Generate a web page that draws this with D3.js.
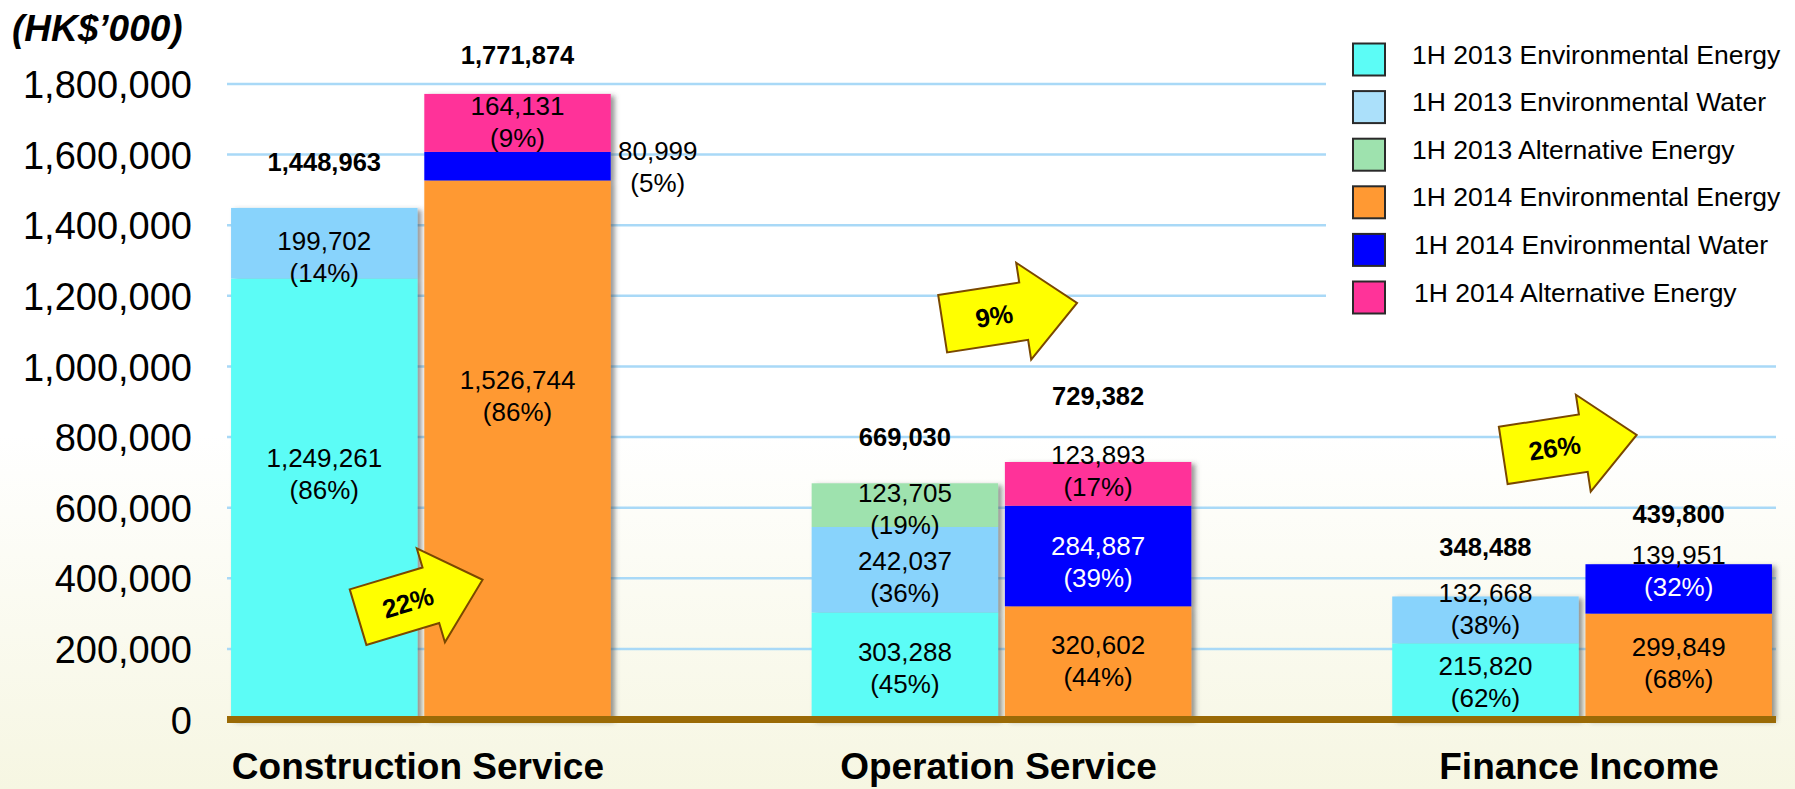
<!DOCTYPE html>
<html><head><meta charset="utf-8">
<script src="https://cdn.jsdelivr.net/npm/d3@7"></script>
<style>
html,body{margin:0;padding:0;background:#fff;}
svg{display:block;font-family:Arial,"Liberation Sans",sans-serif;}
</style></head><body>
<svg id="chart" width="1795" height="789"></svg>
<script>
// ---------------- DATA ----------------
const categories = ["Construction Service", "Operation Service", "Finance Income"];
const periods = ["1H 2013", "1H 2014"];
const seriesNames = ["Environmental Energy", "Environmental Water", "Alternative Energy"];

const envEnergy2013 = [1249261, 303288, 215820];
const envWater2013  = [199702, 242037, 132668];
const altEnergy2013 = [0, 123705, 0];
const envEnergy2014 = [1526744, 320602, 299849];
const envWater2014  = [80999, 284887, 139951];
const altEnergy2014 = [164131, 123893, 0];

const envEnergyPct2013 = [86, 45, 62];
const envWaterPct2013  = [14, 36, 38];
const altEnergyPct2013 = [null, 19, null];
const envEnergyPct2014 = [86, 44, 68];
const envWaterPct2014  = [5, 39, 32];
const altEnergyPct2014 = [9, 17, null];

const totals2013 = [1448963, 669030, 348488];
const totals2014 = [1771874, 729382, 439800];
const growth = ["22%", "9%", "26%"];

const yTicks = [0, 200000, 400000, 600000, 800000, 1000000, 1200000, 1400000, 1600000, 1800000];
const legendLabels = [
  "1H 2013 Environmental Energy", "1H 2013 Environmental Water", "1H 2013 Alternative Energy",
  "1H 2014 Environmental Energy", "1H 2014 Environmental Water", "1H 2014 Alternative Energy"
];

// ---------------- STYLE / LAYOUT ----------------
const colors2013 = ["#5CFCF6", "#88D3FC", "#9EE2AE"];
const colors2014 = ["#FF9933", "#0000FF", "#FF3399"];
const legendColors = ["#5CFCF6", "#ABE0FA", "#9EE2AE", "#FF9933", "#0000FF", "#FF3399"];

// label nudges (px) relative to segment centre: [category][series]
const segNudge2013 = [[-25, 13, 0], [2, 7, 4], [0, -11, 0]];
const segNudge2014 = [[-54, 0, -1], [-2, 6, -13], [-4, -18, 0]];
const totalGap2013 = [46, 46, 50];
const totalGap2014 = [39, 66, 50];
// arrows: offset from group start (px), anchor value on y scale, angle, length
const arrowDx = [127, 131, 111];
const arrowAt = [290000, 1121000, 748000];
const arrowAngle = [-16.7, -8.8, -8.7];
const arrowLen = [130, 136, 135];

const W = 1795, H = 789;
const plotLeft = 227, plotRight = 1776;
const svg = d3.select("#chart");

// background gradient
const defs = svg.append("defs");
const bg = defs.append("linearGradient").attr("id", "bg").attr("x1", 0).attr("y1", 0).attr("x2", 0).attr("y2", 1);
bg.append("stop").attr("offset", "0%").attr("stop-color", "#ffffff");
bg.append("stop").attr("offset", "55%").attr("stop-color", "#ffffff");
bg.append("stop").attr("offset", "100%").attr("stop-color", "#F6F6E2");
svg.append("rect").attr("width", W).attr("height", H).attr("fill", "url(#bg)");

const shadow = defs.append("filter").attr("id", "shadow").attr("x", "-10%").attr("y", "-10%").attr("width", "130%").attr("height", "130%");
shadow.append("feDropShadow").attr("dx", 4).attr("dy", 2).attr("stdDeviation", 2.5)
  .attr("flood-color", "#444").attr("flood-opacity", 0.55);

// scales
const y = d3.scaleLinear().domain([0, 1800000]).range([719.5, 84]);
const x0 = d3.scaleBand().domain(categories).range([plotLeft, plotRight]).paddingInner(0.346).paddingOuter(0.007);
const x1 = d3.scaleBand().domain(periods).range([0, x0.bandwidth()]).paddingInner(0.035);

// gridlines
const legendLeft = 1326, legendBottom = 335;
svg.append("g").selectAll("line").data(yTicks.filter(d => d > 0)).join("line")
  .attr("x1", plotLeft)
  .attr("x2", d => y(d) < legendBottom ? legendLeft : plotRight)
  .attr("y1", d => y(d)).attr("y2", d => y(d))
  .attr("stroke", "#A9D9F7").attr("stroke-width", 2.5);

// y axis (labels only)
const yAxis = d3.axisLeft(y).tickValues(yTicks).tickFormat(d3.format(",")).tickSize(0).tickPadding(0);
const yg = svg.append("g").attr("transform", "translate(192,0)").call(yAxis);
yg.select(".domain").remove();
yg.selectAll("text").attr("font-size", 38).attr("fill", "#000")
  .attr("font-family", 'Arial,"Liberation Sans",sans-serif').attr("dy", "0.36em");

// unit label
svg.append("text").attr("x", 12).attr("y", 41).attr("font-size", 37).attr("font-weight", "bold")
  .attr("font-style", "italic").text("(HK$\u2019000)");

// build stacked data
const data = [];
const vals = {
  "1H 2013": [envEnergy2013, envWater2013, altEnergy2013],
  "1H 2014": [envEnergy2014, envWater2014, altEnergy2014]
};
const pcts = {
  "1H 2013": [envEnergyPct2013, envWaterPct2013, altEnergyPct2013],
  "1H 2014": [envEnergyPct2014, envWaterPct2014, altEnergyPct2014]
};
const cols = { "1H 2013": colors2013, "1H 2014": colors2014 };
const nudges = { "1H 2013": segNudge2013, "1H 2014": segNudge2014 };
const totals = { "1H 2013": totals2013, "1H 2014": totals2014 };
const gaps = { "1H 2013": totalGap2013, "1H 2014": totalGap2014 };

categories.forEach((c, ci) => {
  periods.forEach(p => {
    let acc = 0;
    const segs = seriesNames.map((s, si) => {
      const v = vals[p][si][ci];
      const seg = { cat: c, ci, period: p, series: s, si, y0: acc, y1: acc + v, v, pct: pcts[p][si][ci],
        color: cols[p][si], nudge: nudges[p][ci][si] };
      acc += v;
      return seg;
    }).filter(d => d.v > 0);
    data.push({ cat: c, ci, period: p, segs, total: totals[p][ci], gap: gaps[p][ci] });
  });
});

// bars
const barG = svg.append("g");
const stacks = barG.selectAll("g.stack").data(data).join("g").attr("class", "stack")
  .attr("transform", d => `translate(${x0(d.cat) + x1(d.period)},0)`)
  .attr("filter", "url(#shadow)");
stacks.selectAll("rect").data(d => d.segs).join("rect")
  .attr("x", 0).attr("width", x1.bandwidth())
  .attr("y", d => y(d.y1)).attr("height", d => y(d.y0) - y(d.y1))
  .attr("fill", d => d.color);

// axis baseline
svg.append("line").attr("x1", plotLeft).attr("x2", plotRight).attr("y1", y(0)).attr("y2", y(0))
  .attr("stroke", "#9A6A06").attr("stroke-width", 7);

// segment labels
const fmt = d3.format(",");
const labG = svg.append("g");
data.forEach(bar => {
  const bx = x0(bar.cat) + x1(bar.period);
  bar.segs.forEach(s => {
    const top = y(s.y1), bot = y(s.y0);
    let cx = bx + x1.bandwidth() / 2;
    let cy = (top + bot) / 2 + s.nudge;
    const outside = (bot - top) < 40;
    if (outside) { cx = bx + x1.bandwidth() + 47; }
    const lines = [fmt(s.v), `(${s.pct}%)`];
    lines.forEach((t, li) => {
      const ly = cy + (li === 0 ? -16 : 16);
      const inside = !outside && ly > top + 2 && ly < bot;
      const white = inside && s.color === "#0000FF";
      labG.append("text").attr("x", cx).attr("y", ly).attr("dy", "0.36em")
        .attr("text-anchor", "middle").attr("font-size", 26)
        .attr("fill", white ? "#fff" : "#000").text(t);
    });
  });
  // total
  labG.append("text").attr("x", bx + x1.bandwidth() / 2).attr("y", y(bar.total) - bar.gap)
    .attr("dy", "0.36em").attr("text-anchor", "middle").attr("font-size", 25.5).attr("font-weight", "bold")
    .attr("fill", "#000").text(fmt(bar.total));
});

// growth arrows
const arrowG = svg.append("g");
categories.forEach((c, i) => {
  const L = arrowLen[i], head = 54, sh = 29, hh = 49;
  const pts = [[0, -sh], [L - head, -sh], [L - head, -hh], [L, 0], [L - head, hh], [L - head, sh], [0, sh]];
  const g = arrowG.append("g")
    .attr("transform", `translate(${x0(c) + arrowDx[i]},${y(arrowAt[i])}) rotate(${arrowAngle[i]})`);
  g.append("path").attr("d", d3.line()(pts) + "Z").attr("fill", "#FFFF00")
    .attr("stroke", "#7A4800").attr("stroke-width", 2).attr("stroke-linejoin", "miter");
  g.append("text").attr("x", 52).attr("y", 0).attr("dy", "0.36em").attr("text-anchor", "middle")
    .attr("font-size", 26).attr("font-weight", "bold").attr("fill", "#000").text(growth[i]);
});

// category labels
svg.append("g").selectAll("text").data(categories).join("text")
  .attr("x", d => x0(d) + x0.bandwidth() / 2 - 3).attr("y", 779)
  .attr("text-anchor", "middle").attr("font-size", 37).attr("font-weight", "bold").attr("fill", "#000")
  .text(d => d);

// legend
const lg = svg.append("g");
legendLabels.forEach((t, i) => {
  const cy = 59.5 + i * 47.6;
  lg.append("rect").attr("x", 1353).attr("y", cy - 16).attr("width", 32).attr("height", 32)
    .attr("fill", legendColors[i]).attr("stroke", "#2a2a2a").attr("stroke-width", 2);
  lg.append("text").attr("x", 1412 + (i >= 4 ? 2 : 0)).attr("y", cy + 4).attr("font-size", 26.5).attr("fill", "#000").text(t);
});
</script>
</body></html>
